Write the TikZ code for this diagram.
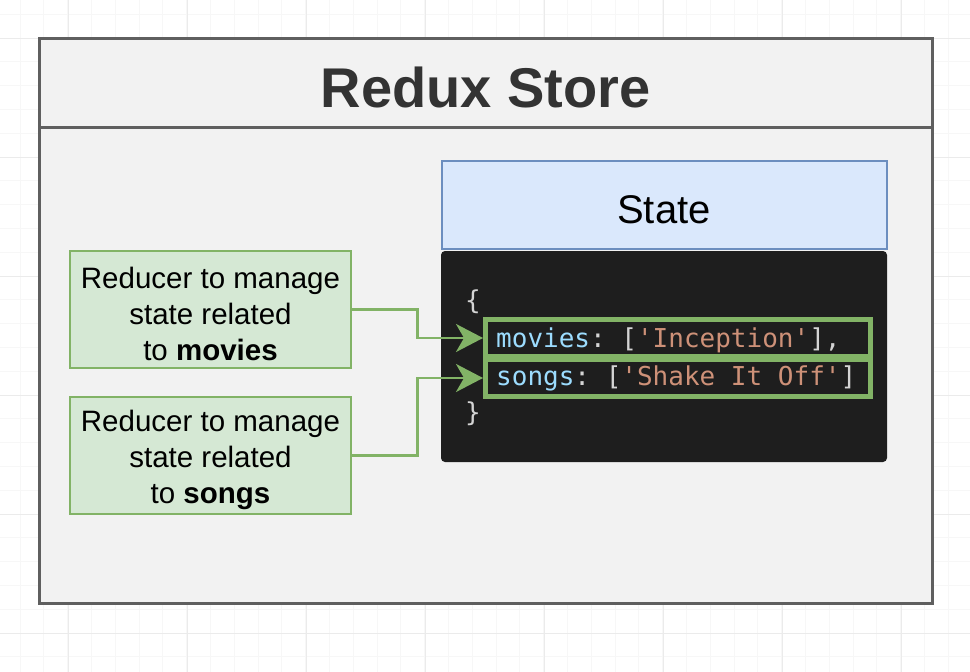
\documentclass[tikz,border=0pt]{standalone}
\usepackage{fontspec}
\setmainfont{Liberation Sans}
\setmonofont{DejaVu Sans Mono}
\usetikzlibrary{arrows.meta}
\definecolor{gridminor}{HTML}{F7F7F7}
\definecolor{gridmajor}{HTML}{EBEBEB}
\definecolor{storeline}{HTML}{5F5F5F}
\definecolor{storefill}{HTML}{F2F2F2}
\definecolor{statefill}{HTML}{DAE8FC}
\definecolor{stateline}{HTML}{6C8EBF}
\definecolor{codebg}{HTML}{1E1E1E}
\definecolor{redfill}{HTML}{D5E8D4}
\definecolor{redline}{HTML}{82B366}
\definecolor{codekey}{HTML}{9CDCFE}
\definecolor{codepun}{HTML}{D4D4D4}
\definecolor{codestr}{HTML}{CE9178}
\tikzset{
  reducer/.style={draw=redline, fill=redfill, line width=2.5pt, minimum width=281pt,
    minimum height=117pt, align=center, inner sep=0pt,
    font=\fontsize{29.5}{36}\selectfont},
  coderow/.style={draw=redline, line width=5pt, minimum width=385pt, minimum height=37pt, inner sep=0pt},
  link/.style={draw=redline, line width=2.5pt, -{Stealth[length=27pt,width=28pt,inset=8pt]}},
  codeline/.style={anchor=base west, inner sep=0pt, text=codepun,
    font=\ttfamily\fontsize{26}{26}\selectfont}
}
\begin{document}
\begin{tikzpicture}[x=1pt,y=-1pt]
  \useasboundingbox (0,0) rectangle (970,672);
  \fill[white] (0,0) rectangle (970,672);
  % background grid
  \foreach \gx in {0,23.8,...,970} \draw[gridminor,line width=1pt] (\gx+20,0) -- (\gx+20,672);
  \foreach \gy in {0,23.8,...,672} \draw[gridminor,line width=1pt] (0,\gy+14.2) -- (970,\gy+14.2);
  \foreach \gx in {-51,68,...,970} \draw[gridmajor,line width=1pt] (\gx,0) -- (\gx,672);
  \foreach \gy in {38,157,...,672} \draw[gridmajor,line width=1pt] (0,\gy) -- (970,\gy);

  % store
  \draw[storeline,fill=storefill,line width=3pt] (39,38) rectangle (932,603);
  \draw[storeline,line width=3pt] (39,127) -- (932,127);
  \node[font=\bfseries\fontsize{56}{56}\selectfont,text=black!80] (title) at (485.5,87) {Redux Store};

  % state
  \node[draw=stateline,fill=statefill,line width=2pt,minimum width=445pt,minimum height=88pt,
    text height=38pt,font=\fontsize{40}{40}\selectfont] (state) at (664,204.5) {State};
  \node[fill=codebg,rounded corners=4pt,minimum width=446pt,minimum height=211pt] (code) at (664,356.5) {};
  \node[codeline] (open) at (465,309) {\{};
  \node[codeline] (movline) at (496,347)
    {\textcolor{codekey}{movies}: [\textcolor{codestr}{'Inception'}],};
  \node[codeline] (sngline) at (496,385)
    {\textcolor{codekey}{songs}: [\textcolor{codestr}{'Shake It Off'}]};
  \node[codeline] (close) at (465,421) {\}};
  \node[coderow] (movrow) at (678,338) {};
  \node[coderow] (sngrow) at (678,378) {};

  % reducers
  \node[reducer] (redmov) at (210.5,309.5) {\rule{0pt}{31pt}Reducer to manage\\state related\\to \textbf{movies}};
  \node[reducer] (redsng) at (210.5,455.5) {\rule{0pt}{31pt}Reducer to manage\\state related\\to \textbf{songs}};

  \draw[link] (redmov.east) -- ++(65,0) |- (movrow.west);
  \draw[link] (redsng.east) -- ++(65,0) |- (sngrow.west);
\end{tikzpicture}
\end{document}
